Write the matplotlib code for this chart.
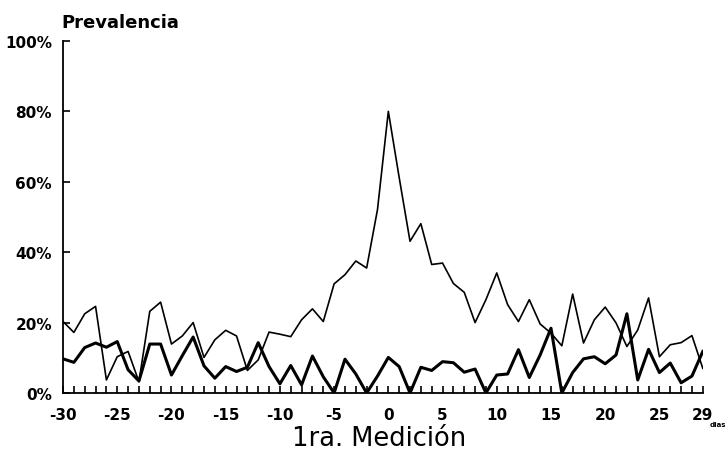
import matplotlib.pyplot as plt
from matplotlib.ticker import MultipleLocator, FixedLocator

days = list(range(-30, 30))

# thin line (peaks at day 0)
serie_a = [20.3, 17.2, 22.5, 24.6, 3.7, 10.3, 11.8, 3.2, 23.2, 25.8,
           13.9, 16.2, 20.0, 10.1, 15.1, 17.8, 16.2, 6.4, 9.4, 17.3,
           16.7, 16.0, 20.8, 23.9, 20.3, 31.0, 33.6, 37.5, 35.5, 52.1,
           80.0, 61.2, 43.1, 48.1, 36.5, 36.9, 31.1, 28.6, 20.0, 26.5,
           34.1, 25.1, 20.3, 26.5, 19.6, 17.0, 13.4, 28.1, 14.2, 20.8,
           24.4, 19.9, 13.2, 17.9, 27.0, 10.3, 13.7, 14.3, 16.3, 7.0]

# thick line
serie_b = [9.7, 8.7, 12.9, 14.2, 13.0, 14.6, 6.6, 3.4, 13.9, 13.9,
           5.1, 10.6, 15.9, 7.7, 4.2, 7.5, 6.1, 7.3, 14.3, 7.5,
           2.6, 7.8, 2.3, 10.5, 4.6, 0.0, 9.6, 5.4, 0.0, 4.8,
           10.1, 7.5, 0.0, 7.3, 6.4, 8.9, 8.6, 5.9, 6.8, 0.0,
           5.1, 5.4, 12.3, 4.4, 10.8, 18.4, 0.0, 5.8, 9.7, 10.3,
           8.3, 10.8, 22.5, 3.7, 12.4, 5.8, 8.5, 2.9, 4.8, 11.8]

x_ticks = [-30, -25, -20, -15, -10, -5, 0, 5, 10, 15, 20, 25, 29]
y_ticks = [0, 20, 40, 60, 80, 100]

fig = plt.figure(figsize=(7.27, 4.56), dpi=100)
ax = fig.add_axes([0.0867, 0.136, 0.880, 0.772])

ax.plot(days, serie_a, color="black", linewidth=1.2)
ax.plot(days, serie_b, color="black", linewidth=2.2)

ax.set_xlim(-30, 29)
ax.set_ylim(0, 100)

ax.spines["top"].set_visible(False)
ax.spines["right"].set_visible(False)
ax.spines["left"].set_linewidth(1.3)
ax.spines["bottom"].set_linewidth(1.3)

ax.xaxis.set_major_locator(FixedLocator(x_ticks))
ax.xaxis.set_minor_locator(MultipleLocator(1))
ax.set_xticklabels([str(t) for t in x_ticks], fontsize=11, fontweight="bold")
ax.tick_params(axis="x", which="both", direction="in", length=5, width=1.2, pad=10)

ax.yaxis.set_major_locator(FixedLocator(y_ticks))
ax.set_yticklabels([f"{t}%" for t in y_ticks], fontsize=11, fontweight="bold")
ax.tick_params(axis="y", direction="in", length=5, width=1.2, pad=8)

fig.text(0.085, 0.938, "Prevalencia", fontsize=13, fontweight="bold",
         ha="left", va="baseline")
fig.text(0.521, 0.022, "1ra. Medición", fontsize=18.5, ha="center", va="baseline")
fig.text(0.999, 0.064, "dias", fontsize=5, fontweight="bold", ha="right",
         va="baseline")

fig.savefig("out.png", dpi=100)
